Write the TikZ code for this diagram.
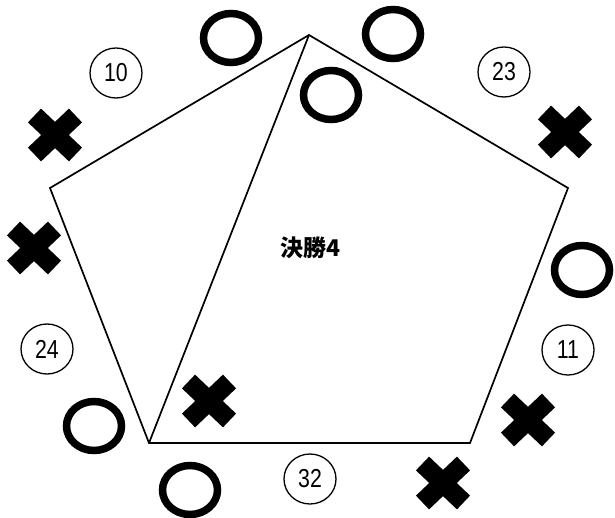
\documentclass[tikz,border=0pt]{standalone}
\usepackage{fontspec}
\usetikzlibrary{shapes.geometric}
\newfontfamily\cjk{Noto Sans CJK JP}
\newfontfamily\numfont[FakeStretch=0.82]{Liberation Sans}
\tikzset{
  ring/.style={draw, ellipse, line width=7.5pt, inner sep=0pt, minimum width=55pt, minimum height=49pt},
  numring/.style={draw, ellipse, line width=1.3pt, inner sep=0pt, minimum width=52pt, minimum height=50pt, font=\numfont\fontsize{26}{26}\selectfont},
  edge/.style={line width=1.7pt, line join=miter},
  xarm/.style={line width=19pt, line cap=butt},
  title/.style={font=\cjk\bfseries\fontsize{23}{23}\selectfont, inner sep=0pt},
  pics/crossmark/.style={code={
    \draw[xarm] (-20.5,-19.5) -- (20.5,19.5);
    \draw[xarm] (-20.5,19.5) -- (20.5,-19.5);
  }}
}
\begin{document}
\begin{tikzpicture}[x=1pt,y=-1pt]
\useasboundingbox (0,0) rectangle (615,518);
% pentagon
\coordinate (T) at (309,35);
\coordinate (L) at (50,188);
\coordinate (R) at (568,188);
\coordinate (BL) at (149,443);
\coordinate (BR) at (470,443);
\draw[edge] (T) -- (R) -- (BR) -- (BL) -- (L) -- cycle;
\draw[edge] (T) -- (BL);
% title
\node[title] (ttl) at (310,248) {決勝4};
% rings
\node[ring] (o1) at (231,38) {};
\node[ring] (o2) at (393,34) {};
\node[ring] (o3) at (331,95) {};
\node[ring] (o4) at (582,270) {};
\node[ring] (o5) at (94,426) {};
\node[ring] (o6) at (190,490) {};
% numbered rings
\node[numring] (n10) at (116,73) {10};
\node[numring] (n23) at (504,72) {23};
\node[numring] (n24) at (47,349) {24};
\node[numring] (n11) at (568,350) {11};
\node[numring] (n32) at (310,479) {32};
% crosses
\pic (x1) at (55,135) {crossmark};
\pic (x2) at (34,248) {crossmark};
\pic (x3) at (565,132) {crossmark};
\pic (x4) at (209,401) {crossmark};
\pic (x5) at (528,420) {crossmark};
\pic (x6) at (443,483) {crossmark};
\end{tikzpicture}
\end{document}
